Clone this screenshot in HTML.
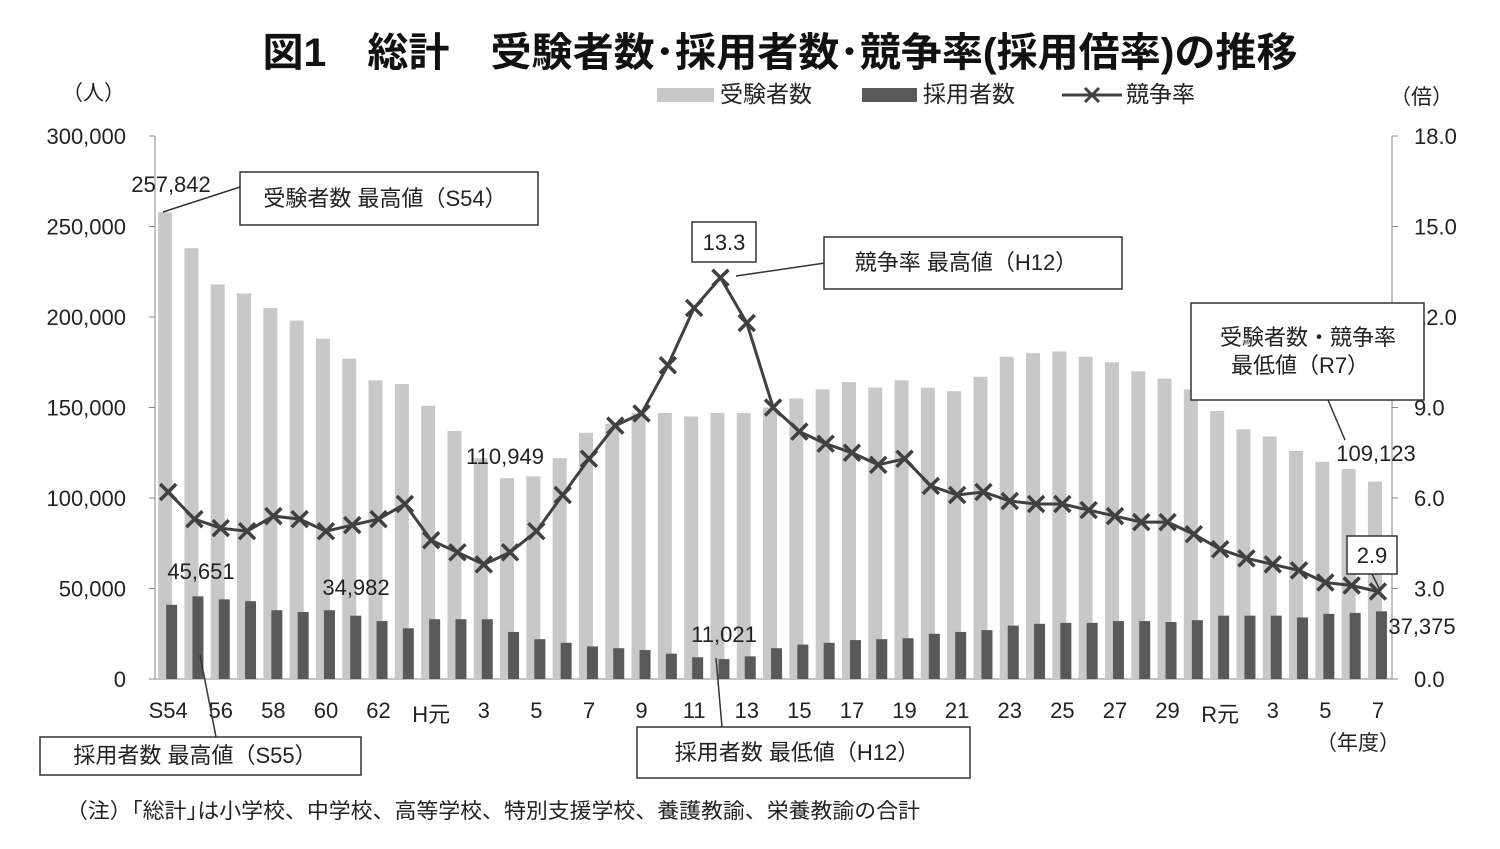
<!DOCTYPE html>
<html><head><meta charset="utf-8">
<style>
html,body{margin:0;padding:0;background:#fff;}
svg{display:block;font-family:"Liberation Sans","Noto Sans CJK JP",sans-serif;}
</style></head>
<body>
<svg id="c" width="1500" height="849" viewBox="0 0 1500 849" xmlns="http://www.w3.org/2000/svg">
<rect width="1500" height="849" fill="#fff"/>
<text x="780" y="66" font-size="40" font-weight="bold" text-anchor="middle" fill="#111" textLength="1035" lengthAdjust="spacingAndGlyphs">図1　総計　受験者数･採用者数･競争率(採用倍率)の推移</text>
<text x="62" y="100" font-size="21" fill="#222">（人）</text>
<text x="1390" y="104" font-size="21" fill="#222">（倍）</text>
<rect x="657" y="88" width="57" height="14" fill="#c8c8c8"/>
<text x="720" y="102" font-size="23" fill="#222">受験者数</text>
<rect x="862" y="88" width="55" height="14" fill="#595959"/>
<text x="923" y="102" font-size="23" fill="#222">採用者数</text>
<line x1="1062" y1="95" x2="1122" y2="95" stroke="#404040" stroke-width="3"/>
<path d="M1085 88 L1099 102 M1099 88 L1085 102" stroke="#404040" stroke-width="3"/>
<text x="1126" y="102" font-size="23" fill="#222">競争率</text>
<g id="g"></g>
</svg>
<script>
var g=document.getElementById('g'),h='';
var ap=[257842,238000,218000,213000,205000,198000,188000,177000,165000,163000,151000,137000,122000,110949,112000,122000,136000,141000,147000,147000,145000,147000,147000,150000,155000,160000,164000,161000,165000,161000,159000,167000,178000,180000,181000,178000,175000,170000,166000,160000,148000,138000,134000,126000,120000,116000,109123];
var hi=[41000,45651,44000,43000,38000,37000,38000,34982,32000,28000,33000,33000,33000,26000,22000,20000,18000,17000,16000,14000,12000,11021,12500,17000,19000,20000,21500,22000,22500,25000,26000,27000,29500,30500,31000,31000,32000,32000,31500,32500,35000,35000,35000,34000,36000,36500,37375];
var r=[6.2,5.3,5.0,4.9,5.4,5.3,4.9,5.1,5.3,5.8,4.6,4.2,3.8,4.2,4.9,6.1,7.3,8.4,8.8,10.4,12.3,13.3,11.8,9.0,8.2,7.8,7.5,7.1,7.3,6.4,6.1,6.2,5.9,5.8,5.8,5.6,5.4,5.2,5.2,4.8,4.3,4.0,3.8,3.6,3.2,3.1,2.9];
var y0=679,s=543/300000,rs=543/18;
function cx(i){return 155+26.3*(i+0.5);}
h+='<line x1="155" y1="136" x2="155" y2="679" stroke="#888"/><line x1="1392" y1="136" x2="1392" y2="679" stroke="#888"/><line x1="155" y1="679" x2="1392" y2="679" stroke="#888"/>';
for(var k=0;k<=6;k++){var y=y0-k*90.5;
h+='<line x1="149" y1="'+y+'" x2="155" y2="'+y+'" stroke="#888"/><line x1="1392" y1="'+y+'" x2="1398" y2="'+y+'" stroke="#888"/>';
h+='<text x="126" y="'+(y+8)+'" font-size="22" text-anchor="end" fill="#222">'+(k==0?'0':(k*50)+',000')+'</text>';
h+='<text x="1414" y="'+(y+8)+'" font-size="22" fill="#222">'+(k*3).toFixed(1)+'</text>';}
for(var i=0;i<47;i++){var c=cx(i);
h+='<rect x="'+(c-10)+'" y="'+(y0-ap[i]*s)+'" width="14" height="'+(ap[i]*s)+'" fill="#c8c8c8"/>';
h+='<rect x="'+(c-2)+'" y="'+(y0-hi[i]*s)+'" width="11" height="'+(hi[i]*s)+'" fill="#595959"/>';}
var pts=[];for(i=0;i<47;i++)pts.push(cx(i).toFixed(1)+','+(y0-r[i]*rs).toFixed(1));
h+='<polyline points="'+pts.join(' ')+'" fill="none" stroke="#404040" stroke-width="3"/>';
for(i=0;i<47;i++){var x=cx(i),y=y0-r[i]*rs;h+='<path d="M'+(x-8)+' '+(y-8)+'L'+(x+8)+' '+(y+8)+'M'+(x+8)+' '+(y-8)+'L'+(x-8)+' '+(y+8)+'" stroke="#404040" stroke-width="3.5"/>';}
var lab={0:'S54',2:'56',4:'58',6:'60',8:'62',10:'H元',12:'3',14:'5',16:'7',18:'9',20:'11',22:'13',24:'15',26:'17',28:'19',30:'21',32:'23',34:'25',36:'27',38:'29',40:'R元',42:'3',44:'5',46:'7'};
for(var key in lab){var yy=(lab[key]=='H元'||lab[key]=='R元')?722:718;h+='<text x="'+cx(+key)+'" y="'+yy+'" font-size="22" text-anchor="middle" fill="#222">'+lab[key]+'</text>';}
h+='<text x="1358" y="750" font-size="21" text-anchor="middle" fill="#222">（年度）</text>';
function box(x,y,w,hh,t){return '<rect x="'+x+'" y="'+y+'" width="'+w+'" height="'+hh+'" fill="#fff" stroke="#333" stroke-width="1.5"/>'+t;}
h+='<line x1="163" y1="212" x2="240" y2="187" stroke="#333" stroke-width="1.5"/>';
h+=box(240,172,298,53,'<text x="385" y="206" font-size="22" text-anchor="middle" fill="#222">受験者数 最高値（S54）</text>');
h+='<line x1="736" y1="276" x2="825" y2="263" stroke="#333" stroke-width="1.5"/>';
h+=box(824,237,298,52,'<text x="966" y="270" font-size="22" text-anchor="middle" fill="#222">競争率 最高値（H12）</text>');
h+=box(692,222,64,40,'<text x="724" y="250" font-size="22" text-anchor="middle" fill="#222">13.3</text>');
h+='<line x1="1328" y1="400" x2="1345" y2="440" stroke="#333" stroke-width="1.5"/>';
h+=box(1191,303,233,97,'<text x="1308" y="345" font-size="22" text-anchor="middle" fill="#222">受験者数・競争率</text><text x="1300" y="373" font-size="22" text-anchor="middle" fill="#222">最低値（R7）</text>');
h+=box(1347,536,50,38,'<text x="1372" y="563" font-size="22" text-anchor="middle" fill="#222">2.9</text>');
h+='<line x1="1372" y1="574" x2="1380" y2="590" stroke="#333" stroke-width="1.5"/>';
h+='<line x1="200" y1="655" x2="216" y2="737" stroke="#333" stroke-width="1.5"/>';
h+=box(40,737,321,38,'<text x="195" y="763" font-size="22" text-anchor="middle" fill="#222">採用者数 最高値（S55）</text>');
h+='<line x1="716" y1="658" x2="722" y2="727" stroke="#333" stroke-width="1.5"/>';
h+=box(637,727,333,51,'<text x="797" y="760" font-size="22" text-anchor="middle" fill="#222">採用者数 最低値（H12）</text>');
h+='<text x="171" y="192" font-size="22" text-anchor="middle" fill="#222">257,842</text>';
h+='<text x="505" y="464" font-size="22" text-anchor="middle" fill="#222">110,949</text>';
h+='<text x="1376" y="461" font-size="22" text-anchor="middle" fill="#222">109,123</text>';
h+='<text x="201" y="579" font-size="22" text-anchor="middle" fill="#222">45,651</text>';
h+='<text x="356" y="595" font-size="22" text-anchor="middle" fill="#222">34,982</text>';
h+='<text x="724" y="642" font-size="22" text-anchor="middle" fill="#222">11,021</text>';
h+='<text x="1422" y="634" font-size="22" text-anchor="middle" fill="#222">37,375</text>';
h+='<text x="66" y="818" font-size="21" fill="#222" textLength="854" lengthAdjust="spacingAndGlyphs">（注）｢総計｣は小学校、中学校、高等学校、特別支援学校、養護教諭、栄養教諭の合計</text>';
g.innerHTML=h;
</script>
</body></html>
